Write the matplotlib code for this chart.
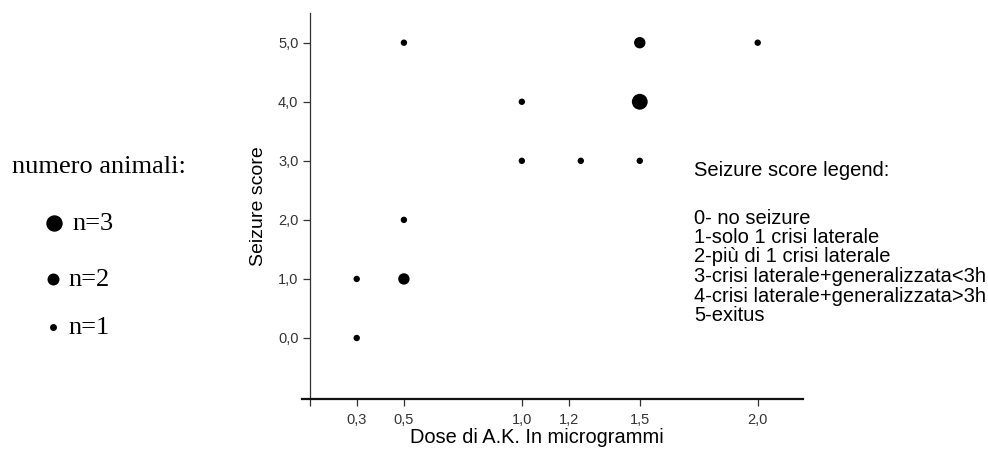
import matplotlib
matplotlib.use('Agg')
import matplotlib.pyplot as plt
from matplotlib.lines import Line2D

# Data:
dose_ug = [0.3, 0.3, 0.5, 0.5, 0.5, 1.0, 1.0, 1.25, 1.5, 1.5, 1.5, 2.0]
seizure_score = [0, 1, 1, 2, 5, 3, 4, 3, 3, 4, 5, 5]
n_animals = [1, 1, 2, 1, 1, 1, 1, 1, 1, 3, 2, 1]

x_ticks = [0.1, 0.3, 0.5, 1.0, 1.2, 1.5, 2.0]
x_tick_labels = ['', '0,3', '0,5', '1,0', '1,2', '1,5', '2,0']
y_ticks = [0, 1, 2, 3, 4, 5]
y_tick_labels = ['0,0', '1,0', '2,0', '3,0', '4,0', '5,0']

legend_n = [3, 2, 1]
score_legend = ['0- no seizure',
                '1-solo 1 crisi laterale',
                '2-più di 1 crisi laterale',
                '3-crisi laterale+generalizzata<3h',
                '4-crisi laterale+generalizzata>3h',
                '5-exitus']

# marker diameter (points) for each group size
marker_pt = {1: 4.6, 2: 8.2, 3: 11.4}

W, H = 988, 450
fig = plt.figure(figsize=(W / 100, H / 100), dpi=100)
plt.rcParams['font.family'] = ['Liberation Sans', 'DejaVu Sans']

ax = fig.add_axes([302 / W, (H - 399) / H, (803 - 302) / W, (399 - 13) / H])
ax.scatter(dose_ug, seizure_score, s=[marker_pt[n] ** 2 for n in n_animals],
           c='black', linewidths=0, zorder=3)

ax.set_xlim(0.068, 2.192)
ax.set_ylim(-1.033, 5.503)
ax.spines['top'].set_visible(False)
ax.spines['right'].set_visible(False)
ax.spines['left'].set_position(('data', 0.1))
ax.spines['left'].set_linewidth(0.9)
ax.spines['left'].set_color('#333333')
ax.spines['bottom'].set_linewidth(1.6)
ax.spines['bottom'].set_color('#111111')

ax.set_xticks(x_ticks)
ax.set_xticklabels(x_tick_labels)
ax.set_yticks(y_ticks)
ax.set_yticklabels(y_tick_labels)
ax.tick_params(axis='both', labelsize=10.5, labelcolor='#333333',
               color='#333333', length=5, width=0.9)
ax.tick_params(axis='x', pad=5)
ax.tick_params(axis='y', pad=3)

ax.set_xlabel('Dose di A.K. In microgrammi', fontsize=14.4)
ax.xaxis.set_label_coords((537 - 302) / 501, -0.076)
ax.set_ylabel('Seizure score', fontsize=14)
ax.yaxis.set_label_coords((267 - 302) / 501, 0.5)

# Left legend: number of animals
fig.text(12 / W, 1 - 167 / H, 'numero animali:', family='Liberation Serif',
         fontsize=19, va='center', ha='left')
legend_pos = [(54, 223, 72), (53, 279, 68), (53, 327, 68)]
for n, (mx, my, tx) in zip(legend_n, legend_pos):
    fig.add_artist(Line2D([mx / W], [1 - my / H], marker='o', color='black',
                          ms=marker_pt[n] + 0.4, mew=0, ls='none',
                          transform=fig.transFigure))
    fig.text(tx / W, 1 - (my + 1) / H, 'n=%i' % n, family='Liberation Serif',
             fontsize=19, va='center', ha='left')

# Right legend: seizure score meaning
fig.text(694 / W, 1 - 170 / H, 'Seizure score legend:', fontsize=14.5,
         va='center', ha='left')
for i, line in enumerate(score_legend):
    fig.text(694 / W, 1 - (218 + 19.5 * i) / H, line, fontsize=14.5,
             va='center', ha='left')

fig.savefig('out.png', dpi=100)
plt.close(fig)
